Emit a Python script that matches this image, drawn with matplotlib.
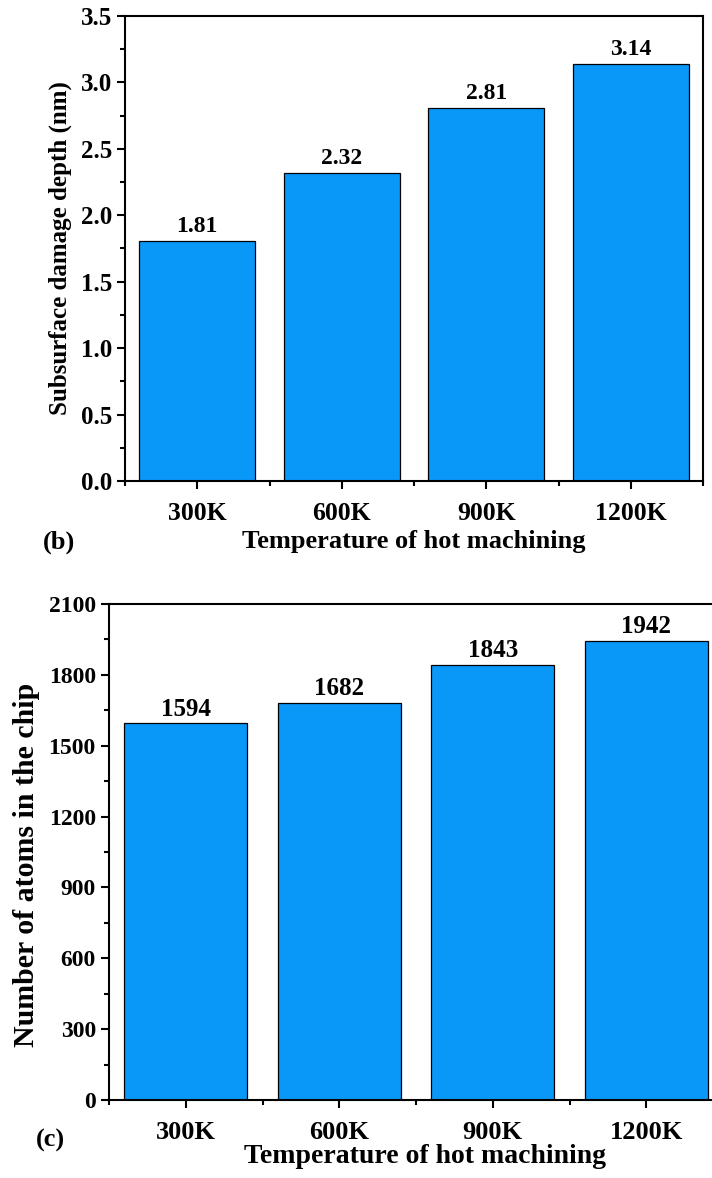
import numpy as np
import matplotlib
matplotlib.use("Agg")
from matplotlib import pyplot as plt
from matplotlib.ticker import MultipleLocator, FixedLocator, FormatStrFormatter

plt.rcParams['font.family'] = 'Liberation Serif'
plt.rcParams['font.weight'] = 'bold'

temps = ["300K", "600K", "900K", "1200K"]
depth = [1.81, 2.32, 2.81, 3.14]
atoms = [1594, 1682, 1843, 1942]

bar_color = '#0A98F8'


def style_axes(ax, xfs, yfs):
    for s in ax.spines.values():
        s.set_linewidth(1.5)
    ax.tick_params(axis='both', which='major', direction='out', length=6, width=1.5,
                   top=False, right=False)
    ax.tick_params(axis='both', which='minor', direction='out', length=3.5, width=1.5,
                   top=False, right=False)
    ax.tick_params(axis='x', which='major', pad=9, labelsize=xfs)
    ax.tick_params(axis='y', which='major', labelsize=yfs)
    ax.xaxis.set_minor_locator(FixedLocator([-0.5, 0.5, 1.5, 2.5, 3.5]))
    ax.set_xlim(-0.5, 3.5)
    for lab in ax.get_xticklabels() + ax.get_yticklabels():
        lab.set_fontweight('bold')


fig = plt.figure(figsize=(7.12, 11.78), dpi=100)
x = np.arange(len(temps))

# panel (b)
ax1 = fig.add_axes([0.1756, 0.5917, 0.8118, 0.3947])
ax1.bar(x, depth, width=0.8, color=bar_color, edgecolor='black', linewidth=0.9)
ax1.set_xticks(x)
ax1.set_xticklabels(temps)
ax1.set_ylim(0, 3.5)
ax1.yaxis.set_major_locator(MultipleLocator(0.5))
ax1.yaxis.set_minor_locator(MultipleLocator(0.25))
ax1.yaxis.set_major_formatter(FormatStrFormatter('%.1f'))
style_axes(ax1, 18.5, 18)
for xi, v in zip(x, depth):
    ax1.text(xi, v + 0.03, f"{v:.2f}", ha='center', va='bottom', fontsize=17, fontweight='bold')
ax1.set_ylabel("Subsurface damage depth (nm)", fontsize=18, fontweight='bold', labelpad=6)
ax1.set_xlabel("Temperature of hot machining", fontsize=19, fontweight='bold', labelpad=4)
fig.text(0.060, 0.540, "(b)", fontsize=19, fontweight='bold', ha='left', va='center')

# panel (c)
ax2 = fig.add_axes([0.1531, 0.0662, 0.8624, 0.4211])
ax2.bar(x, atoms, width=0.8, color=bar_color, edgecolor='black', linewidth=0.9)
ax2.set_xticks(x)
ax2.set_xticklabels(temps)
ax2.set_ylim(0, 2100)
ax2.yaxis.set_major_locator(MultipleLocator(300))
ax2.yaxis.set_minor_locator(MultipleLocator(150))
style_axes(ax2, 19, 17)
for xi, v in zip(x, atoms):
    ax2.text(xi, v + 12, f"{v}", ha='center', va='bottom', fontsize=18, fontweight='bold')
ax2.set_ylabel("Number of atoms in the chip", fontsize=21.5, fontweight='bold', labelpad=6)
ax2.yaxis.label.set_y(0.474)
ax2.set_xlabel("Temperature of hot machining", fontsize=20, fontweight='bold', labelpad=0)
ax2.xaxis.label.set_x(0.515)
fig.text(0.050, 0.032, "(c)", fontsize=19, fontweight='bold', ha='left', va='center')

fig.savefig("out.png", dpi=100)
